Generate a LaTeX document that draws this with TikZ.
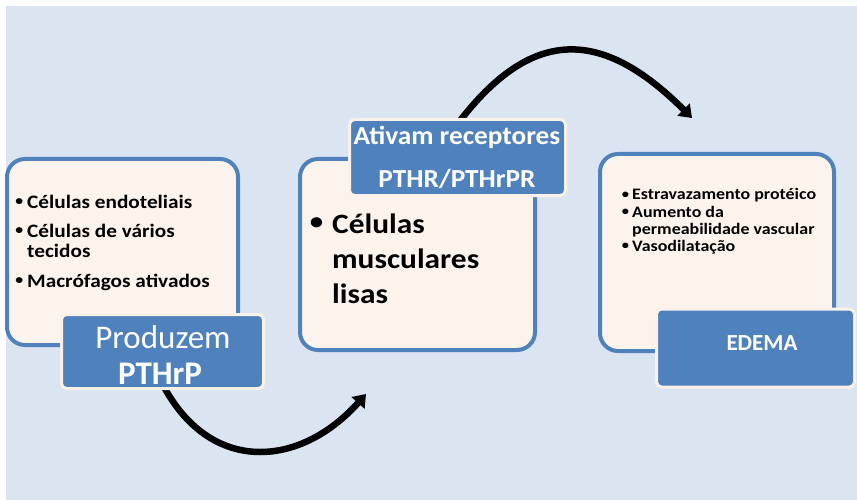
\documentclass[tikz,border=0pt]{standalone}
\usepackage{fontspec}
\setmainfont{Carlito}
\newfontfamily\bodyfont{Carlito}[FakeStretch=1.12]
\newfontfamily\tagfont{Carlito}[FakeStretch=1.05]
\usetikzlibrary{arrows.meta,calc}
\pgfdeclarelayer{bg}
\pgfdeclarelayer{back}
\pgfsetlayers{bg,back,main}

\definecolor{bgblue}{HTML}{DBE5F1}
\definecolor{cream}{HTML}{FCF4EC}
\definecolor{accent}{HTML}{4F81BD}
\definecolor{rim}{HTML}{FAF2E9}

% hanging bullet: #1 = size of the dot, #2 = gap before the text
\newcommand{\bul}[2]{\llap{\raisebox{0.12em}{\fontsize{#1}{#1}\selectfont\textbullet}\hspace{#2}}}

\tikzset{
  panel/.style={draw=accent, line width=4pt, fill=cream, rounded corners=18pt, inner sep=0pt},
  tag/.style={draw=rim, line width=3pt, fill=accent, rounded corners=5pt, inner sep=0pt},
  flow/.style={line width=6.5pt, -{Triangle[length=12pt,width=17pt]}},
  line1/.style={anchor=base west, inner sep=0pt, font=\bodyfont\fontsize{19}{20}\selectfont\bfseries},
  line2/.style={anchor=base west, inner sep=0pt, font=\bodyfont\fontsize{28}{30}\selectfont\bfseries},
  line3/.style={anchor=base west, inner sep=0pt, font=\bodyfont\fontsize{16}{17}\selectfont\bfseries},
  tagtext/.style={anchor=base, inner sep=0pt, text=white},
}

\begin{document}
\begin{tikzpicture}[x=1pt, y=-1pt]
  \useasboundingbox (0,0) rectangle (857,500);
  \begin{pgfonlayer}{bg}
    \fill[bgblue] (6,6) rectangle (857,500);
  \end{pgfonlayer}

  % three panels
  \node[panel, minimum width=231pt, minimum height=186pt] (p1) at (122.5,252) {};
  \node[panel, minimum width=235pt, minimum height=191pt] (p2) at (417.5,254.5) {};
  \node[panel, minimum width=234pt, minimum height=197pt] (p3) at (717,252.5) {};

  % labels on the panels
  \node[tag, minimum width=202pt, minimum height=74pt] (lab1) at (162.5,351.5) {};
  \node[tag, minimum width=216pt, minimum height=76pt] (lab2) at (457.5,157.5) {};
  \node[tag, minimum width=198pt, minimum height=78pt] (lab3) at (755.5,348) {};

  % first panel
  \node[line1] (a1) at (27,208) {\bul{14}{4pt}Células endoteliais};
  \node[line1] (a2) at (27,237) {\bul{14}{4pt}Células de vários};
  \node[line1] (a3) at (27,257) {tecidos};
  \node[line1] (a4) at (27,287) {\bul{14}{4pt}Macrófagos ativados};

  % second panel
  \node[line2] (b1) at (332,233) {\bul{24}{9pt}Células};
  \node[line2] (b2) at (332,268) {musculares};
  \node[line2] (b3) at (332,303) {lisas};

  % third panel
  \node[line3] (c1) at (632,200) {\bul{13}{3pt}Estravazamento protéico};
  \node[line3] (c2) at (632,217) {\bul{13}{3pt}Aumento da};
  \node[line3] (c3) at (632,234) {permeabilidade vascular};
  \node[line3] (c4) at (632,251) {\bul{13}{3pt}Vasodilatação};

  % label texts
  \node[tagtext, font=\fontsize{33}{35}\selectfont] (t1a) at (163,348) {Produzem};
  \node[tagtext, font=\fontsize{33}{35}\selectfont\bfseries] (t1b) at (160,384) {PTHrP};
  \node[tagtext, font=\tagfont\fontsize{26}{28}\selectfont\bfseries] (t2a) at (457,145) {Ativam receptores};
  \node[tagtext, font=\tagfont\fontsize{26}{28}\selectfont\bfseries] (t2b) at (457,187) {PTHR/PTHrPR};
  \node[tagtext, font=\fontsize{23}{25}\selectfont\bfseries] (t3) at (762,350) {EDEMA};

  % curved arrows between the steps
  \coordinate (e1) at (366,394);
  \coordinate (e2) at (692,118);
  \begin{pgfonlayer}{back}
    \draw[flow] ($(lab1.south)+(0,-6)$) .. controls (210,475) and (300,468) .. (e1);
    \draw[flow] ($(lab2.north)+(0,6)$) .. controls (531,27) and (601,27) .. (e2);
  \end{pgfonlayer}
\end{tikzpicture}
\end{document}
